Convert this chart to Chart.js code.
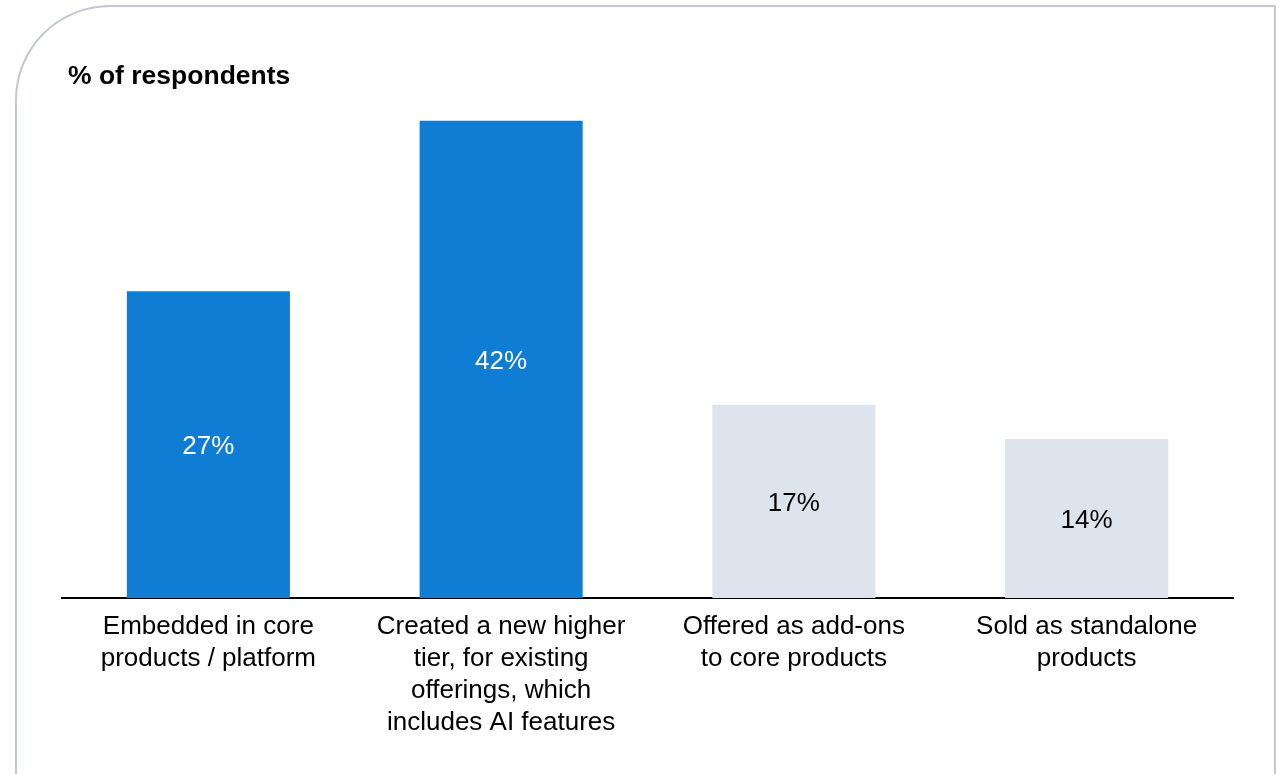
<!DOCTYPE html>
<html>
<head>
<meta charset="utf-8">
<script src="https://cdn.jsdelivr.net/npm/chart.js@4.4.0/dist/chart.umd.min.js"></script>
<style>
  html, body { margin: 0; padding: 0; background: #ffffff; overflow: hidden; }
  #card { position: absolute; left: 15px; top: 5px; width: 1261px; height: 900px;
          border: 2px solid #c4c7d5; border-top-left-radius: 95px; box-sizing: border-box; }
  #wrap { position: absolute; left: 0; top: 0; width: 1281px; height: 774px; }
</style>
</head>
<body>
<div id="card"></div>
<div id="wrap"><canvas id="c" width="1281" height="774"></canvas></div>
<script>
const categories = [
  ["Embedded in core", "products / platform"],
  ["Created a new higher", "tier, for existing", "offerings, which", "includes AI features"],
  ["Offered as add-ons", "to core products"],
  ["Sold as standalone", "products"]
];
const values = [27, 42, 17, 14];
const barColors = ["#0f7dd3", "#0f7dd3", "#dee4ee", "#dee4ee"];
const valueLabelColors = ["#ffffff", "#ffffff", "#000000", "#000000"];
const titleText = "% of respondents";

const FONT = "'Liberation Sans', Arial, Helvetica, sans-serif";

const valueLabelPlugin = {
  id: 'valueLabels',
  afterDatasetsDraw(chart) {
    const ctx = chart.ctx;
    const meta = chart.getDatasetMeta(0);
    ctx.save();
    ctx.font = "26px " + FONT;
    ctx.textAlign = 'center';
    ctx.textBaseline = 'middle';
    meta.data.forEach((bar, i) => {
      const p = bar.getProps(['x', 'y', 'base'], true);
      ctx.fillStyle = valueLabelColors[i];
      ctx.fillText(values[i] + '%', p.x, (p.y + p.base) / 2 + 2);
    });
    ctx.restore();
  }
};

const titlePlugin = {
  id: 'cornerTitle',
  afterDraw(chart) {
    const ctx = chart.ctx;
    ctx.save();
    ctx.font = "bold 26.5px " + FONT;
    ctx.fillStyle = '#000000';
    ctx.textAlign = 'left';
    ctx.textBaseline = 'middle';
    ctx.fillText(titleText, chart.chartArea.left + 6, 77);
    ctx.restore();
  }
};

new Chart(document.getElementById('c'), {
  type: 'bar',
  data: {
    labels: categories,
    datasets: [{
      data: values,
      backgroundColor: barColors,
      borderWidth: 0,
      barPercentage: 0.557,
      categoryPercentage: 1.0
    }]
  },
  options: {
    responsive: false,
    animation: false,
    devicePixelRatio: 1,
    layout: { padding: { left: 62, right: 48, top: 98, bottom: 0 } },
    plugins: {
      legend: { display: false },
      tooltip: { enabled: false },
      title: { display: false }
    },
    scales: {
      x: {
        grid: { display: false, drawTicks: false },
        border: { display: true, color: '#000000', width: 2 },
        ticks: {
          color: '#000000',
          padding: 13,
          maxRotation: 0,
          autoSkip: false,
          font: { family: FONT, size: 26, lineHeight: 1.23 }
        },
        afterFit(scale) { scale.height = 176; }
      },
      y: {
        display: false,
        min: 0,
        max: 44
      }
    }
  },
  plugins: [valueLabelPlugin, titlePlugin]
});
</script>
</body>
</html>
